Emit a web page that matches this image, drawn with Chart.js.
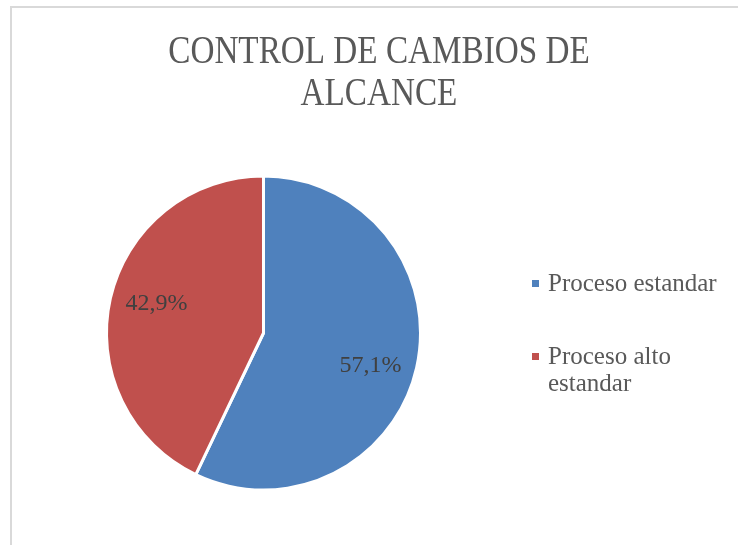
<!DOCTYPE html>
<html>
<head>
<meta charset="utf-8">
<script src="https://cdn.jsdelivr.net/npm/chart.js@4.4.0/dist/chart.umd.min.js"></script>
<style>
  html, body { margin: 0; padding: 0; background: #fff; }
  #wrap { position: relative; width: 738px; height: 545px; overflow: hidden; }
  #frame { position: absolute; left: 10px; top: 6px; width: 800px; height: 600px;
           border-left: 2px solid #d9d9d9; border-top: 2px solid #d9d9d9; }
  canvas { position: absolute; left: 0; top: 0; }
</style>
</head>
<body>
<div id="wrap">
  <div id="frame"></div>
  <canvas id="myChart" width="738" height="545"></canvas>
</div>
<script>
// Datos del gráfico
const titulo = ['CONTROL DE CAMBIOS DE', 'ALCANCE'];
const categorias = ['Proceso estandar', 'Proceso alto estandar'];
const leyendaLineas = [['Proceso estandar'], ['Proceso alto', 'estandar']];
const valores = [57.1, 42.9];
const colores = ['#4F81BD', '#C0504D'];

const fuente = '"Liberation Serif", serif';

// Título dibujado a mano (centrado en el marco), algo comprimido a lo ancho
const tituloPlugin = {
    id: 'tituloPlugin',
    afterDraw(chart) {
        const c = chart.ctx;
        c.save();
        c.fillStyle = '#595959';
        c.font = '40px ' + fuente;
        c.textAlign = 'center';
        c.textBaseline = 'alphabetic';
        c.translate(379, 0);
        c.scale(0.83, 1);
        titulo.forEach((t, i) => c.fillText(t, 0, 63 + i * 42));
        c.restore();
    }
};

// Etiquetas de porcentaje dentro de cada sector
const etiquetasPlugin = {
    id: 'etiquetasPlugin',
    afterDatasetsDraw(chart) {
        const c = chart.ctx;
        const meta = chart.getDatasetMeta(0);
        c.save();
        c.fillStyle = '#404040';
        c.font = '24px ' + fuente;
        c.textAlign = 'center';
        c.textBaseline = 'middle';
        meta.data.forEach((arc, i) => {
            const mid = (arc.startAngle + arc.endAngle) / 2 + 0.06;
            const r = arc.outerRadius * 0.71;
            const x = arc.x + Math.cos(mid) * r;
            const y = arc.y + Math.sin(mid) * r;
            c.fillText(valores[i].toFixed(1).replace('.', ',') + '%', x, y + 2);
        });
        c.restore();
    }
};

// Leyenda a la derecha con texto en varias líneas
const leyendaPlugin = {
    id: 'leyendaPlugin',
    afterDraw(chart) {
        const c = chart.ctx;
        c.save();
        c.font = '25px ' + fuente;
        c.textBaseline = 'alphabetic';
        const x0 = 532;
        const ys = [291, 364];
        leyendaLineas.forEach((lineas, i) => {
            c.fillStyle = colores[i];
            c.fillRect(x0, ys[i] - 11, 7, 7);
            c.fillStyle = '#595959';
            lineas.forEach((l, j) => c.fillText(l, x0 + 16, ys[i] + j * 27));
        });
        c.restore();
    }
};

const ctx = document.getElementById('myChart').getContext('2d');
const myChart = new Chart(ctx, {
    type: 'pie',
    data: {
        labels: categorias,
        datasets: [{
            data: valores,
            backgroundColor: colores,
            borderColor: '#ffffff',
            borderWidth: 3
        }]
    },
    options: {
        responsive: false,
        animation: false,
        layout: { padding: { left: 105, right: 316, top: 174, bottom: 53 } },
        plugins: {
            legend: { display: false },
            tooltip: { enabled: false }
        }
    },
    plugins: [tituloPlugin, etiquetasPlugin, leyendaPlugin]
});
</script>
</body>
</html>
